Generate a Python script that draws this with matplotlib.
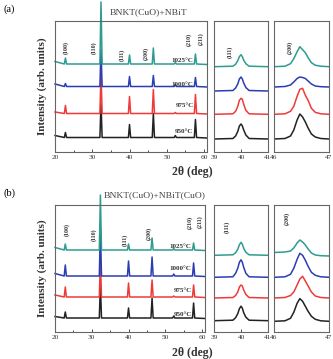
import matplotlib
matplotlib.use("Agg")
import matplotlib.pyplot as plt

plt.rcParams['font.family'] = ['Liberation Serif', 'DejaVu Serif']
W, H = 333, 359

temps = ['950°C', '975°C', '1000°C', '1025°C']
colors = ['#222222', '#ef3a3a', '#2b3db2', '#2e9c8e']
titles = ['BNKT(CuO)+NBiT', 'BNKT(CuO)+NBiT(CuO)']
tags = ['(a)', '(b)']

# main scan 20-60 deg
hkl = ['(100)', '(110)', '(111)', '(200)', '(210)', '(211)']
pos = [22.8, 32.35, 40.0, 46.4, 52.3, 57.7]
# peak heights (px above baseline) per temperature, panel a / b
h_a = [[5, 34, 13, 24, 2, 18], [8, 41, 17, 24, 1, 19],
       [3, 37, 10, 11, 2, 9], [6, 62, 9, 16, 1.5, 10]]
h_b = [[6, 33, 10, 20, 2, 15], [10, 36, 14, 17, 1, 12],
       [11, 47, 15, 19, 2, 13], [6, 55, 6, 12, 1.5, 7]]
base_a = [14.5, 38.5, 65.5, 88]
base_b = [14, 35, 56, 82]
# background at 20 deg (scan start), slightly raised
start_a = [2, 1.5, 2.5, 2.5]
start_b = [1.5, 2, 2.5, 2.5]
lab_x_a = [22.8, 30.3, 38.0, 44.4, 55.9, 59.1]
lab_y_a = [105, 104, 97, 99, 113, 113]
lab_x_b = [23.1, 30.6, 39.1, 45.5, 56.7, 59.5]
lab_y_b = [102, 97, 92, 99, 110, 110]
temp_y_a = [21, 47, 68, 91]
temp_y_b = [18, 41, 63, 86]

# (111) close-up
x111 = [39.0, 39.7, 39.8, 39.88, 39.94, 40.0, 40.05, 40.1, 40.18, 40.3, 41.0]
p111_a = [[0, 0.5, 3, 7.5, 13, 15, 13, 9, 4, 0.5, 0],
          [0, 0.5, 3, 8, 14, 16, 15, 10, 4, 0.5, 0],
          [0, 0.5, 3, 7, 12, 14, 12, 8, 3.5, 0.5, 0],
          [0, 0.5, 2.5, 6, 10, 12, 10, 6.5, 3, 0.5, 0]]
p111_b = [[0, 0.5, 3, 7, 12, 14.5, 12.5, 8, 3.5, 0.5, 0],
          [0, 0.5, 2.5, 6, 11, 13, 12, 8, 3.5, 0.5, 0],
          [0, 0.5, 4, 9, 15, 17.5, 15, 10, 4, 0.5, 0],
          [0, 0.5, 2.5, 6, 10.5, 13, 11, 7, 3, 0.5, 0]]
b111_a = [13, 37.7, 61, 85.3]
b111_b = [11.3, 34, 54.7, 76.7]

# (200) close-up
x200 = [46.0, 46.2, 46.3, 46.36, 46.42, 46.47, 46.52, 46.57, 46.62, 46.68, 46.75, 46.85, 47.0]
p200_a = [[0, 0.5, 3, 9, 19, 25, 22, 17, 11, 5, 2, 0.5, 0],
          [0, 0.5, 3, 8, 18, 25, 26, 19, 14, 6, 2, 0.5, 0],
          [0, 0.5, 2, 5, 8.5, 10, 9.5, 8.5, 6, 3, 1, 0.3, 0],
          [0, 0.5, 3, 8, 15, 20, 17, 14, 9, 4, 1.5, 0.5, 0]]
p200_b = [[0, 0.5, 3, 9, 18, 22.7, 20, 15, 10, 5, 2, 0.5, 0],
          [0, 0.5, 2.5, 6, 13, 19, 21.7, 17, 12, 6, 2, 0.5, 0],
          [0, 0.5, 3, 9, 18, 24, 22, 17, 11, 5, 2, 0.5, 0],
          [3.5, 4, 5, 8, 13, 16, 14, 11, 7, 3, 1, 0.3, 0]]
b200_a = [13, 37.7, 65, 85.3]
b200_b = [10.7, 34, 54.7, 76]

fig = plt.figure(figsize=(W / 100, H / 100), dpi=100)


def box(l, r, t, b):
    return [l / W, 1 - b / H, (r - l) / W, (b - t) / H]


def style(ax, ylim):
    ax.set_ylim(0, ylim)
    ax.set_yticks([])
    for s in ax.spines.values():
        s.set_color('#666666')
        s.set_linewidth(0.8)
    ax.tick_params(axis='x', direction='in', length=2, width=0.6,
                   labelsize=5.3, pad=2, colors='#333333')


panels = [
    dict(top=21, bot=152, mr=207, h=h_a, base=base_a, st=start_a, lx=lab_x_a,
         ly=lab_y_a, ty=temp_y_a, p111=p111_a, b111=b111_a, p200=p200_a,
         b200=b200_a, l111=(39.6, 100), l200=(46.29, 105), xl=172),
    dict(top=205, bot=332, mr=205, h=h_b, base=base_b, st=start_b, lx=lab_x_b,
         ly=lab_y_b, ty=temp_y_b, p111=p111_b, b111=b111_b, p200=p200_b,
         b200=b200_b, l111=(39.47, 105), l200=(46.24, 114), xl=353),
]

for k, P in enumerate(panels):
    hgt = P['bot'] - P['top']
    ax1 = fig.add_axes(box(55, P['mr'], P['top'], P['bot']))
    ax2 = fig.add_axes(box(214, 268, P['top'], P['bot']))
    ax3 = fig.add_axes(box(274, 329, P['top'], P['bot']))
    for ax in (ax1, ax2, ax3):
        style(ax, hgt)

    for i in range(4):
        b = P['base'][i]
        xs, ys = [20.0], [b + P['st'][i]]
        for p, hh in zip(pos, P['h'][i]):
            xs += [p - 0.3, p, p + 0.3]
            ys += [b, b + hh, b]
        xs.append(60.8)
        ys.append(b - 0.5)
        ax1.plot(xs, ys, color=colors[i], lw=1.1, clip_on=False)
        ax1.text(57.2, P['ty'][i], temps[i], ha='right', va='center',
                 fontsize=5, fontweight='bold', color='#333333')
        ax2.plot(x111, [P['b111'][i] + v for v in P['p111'][i]],
                 color=colors[i], lw=1.1)
        ax3.plot(x200, [P['b200'][i] + v for v in P['p200'][i]],
                 color=colors[i], lw=1.1)

    for lab, x, y in zip(hkl, P['lx'], P['ly']):
        ax1.text(x, y, lab, rotation=90, ha='center', va='center',
                 fontsize=4.3, fontweight='bold', color='#333333')
    ax2.text(*P['l111'], '(111)', rotation=90, ha='center', va='center',
             fontsize=4.3, fontweight='bold', color='#333333')
    ax3.text(*P['l200'], '(200)', rotation=90, ha='center', va='center',
             fontsize=4.3, fontweight='bold', color='#333333')

    ax1.set_xlim(20, 60.8)
    ax1.set_xticks([20, 30, 40, 50, 60])
    ax1.set_xticks([25, 35, 45, 55], minor=True)
    ax1.tick_params(axis='x', which='minor', direction='in', length=1.2, width=0.5)
    ax2.set_xlim(39, 41)
    ax2.set_xticks([39, 40, 41])
    ax3.set_xlim(46, 47)
    ax3.set_xticks([46, 47])

    fig.text(192 / W, 1 - P['xl'] / H, '2θ (deg)', ha='center', va='center',
             fontsize=8.5, fontweight='bold', color='#333333')
    fig.text(42 / W, 1 - (P['top'] + hgt * 0.5) / H, 'Intensity (arb. units)',
             rotation=90, ha='center', va='center', fontsize=8,
             fontweight='bold', color='#333333')

fig.text(148 / W, 1 - 12 / H, titles[0], ha='center', va='center',
         fontsize=6.8, color='#444444')
fig.text(155 / W, 1 - 195 / H, titles[1], ha='center', va='center',
         fontsize=6.8, color='#444444')
fig.text(4 / W, 1 - 9 / H, tags[0], ha='left', va='center', fontsize=7.5)
fig.text(4 / W, 1 - 193 / H, tags[1], ha='left', va='center', fontsize=7.5)

fig.savefig('out.png', dpi=100)
